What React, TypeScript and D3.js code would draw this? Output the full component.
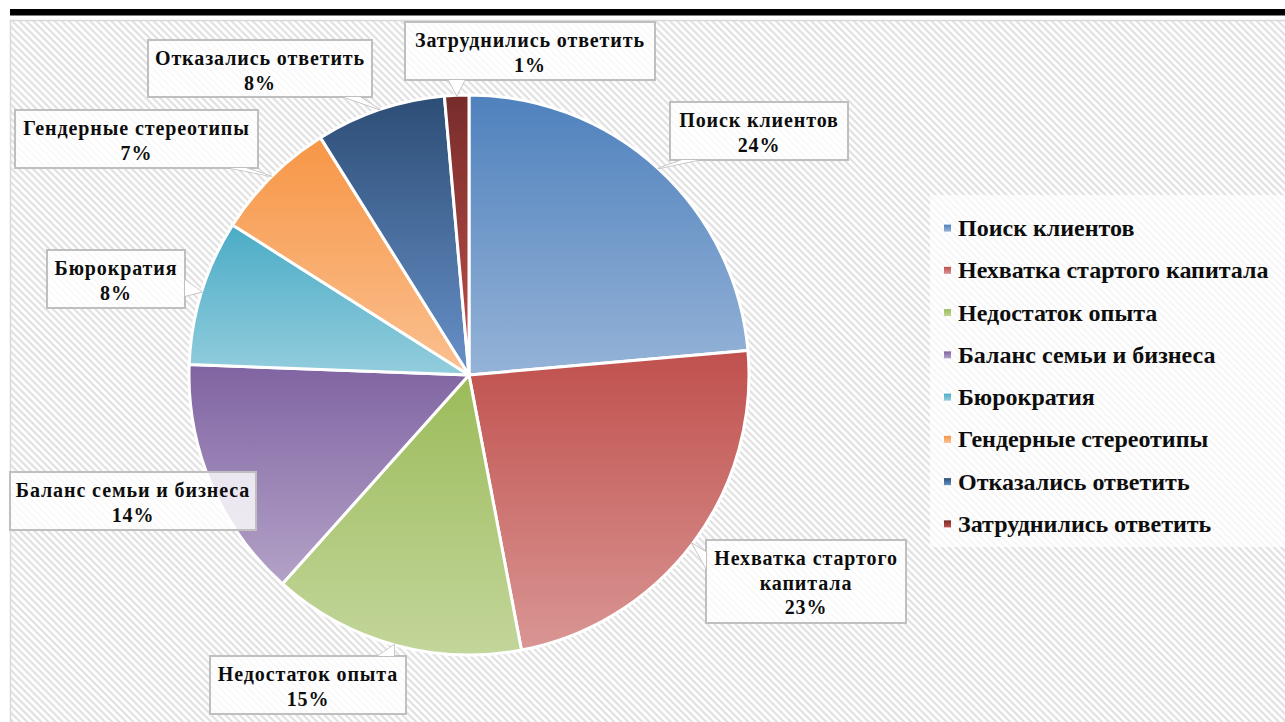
import * as d3 from "d3";

// survey: main problems of women in business
const categories = [
  "Поиск клиентов",
  "Нехватка стартого капитала",
  "Недостаток опыта",
  "Баланс семьи и бизнеса",
  "Бюрократия",
  "Гендерные стереотипы",
  "Отказались ответить",
  "Затруднились ответить",
];
const shares = [23.6, 23.4, 14.6, 14.0, 8.4, 7.1, 7.5, 1.4];
const percentLabels = ["24%", "23%", "15%", "14%", "8%", "7%", "8%", "1%"];
const labelLines = [
  ["Поиск клиентов"],
  ["Нехватка стартого", "капитала"],
  ["Недостаток опыта"],
  ["Баланс семьи и бизнеса"],
  ["Бюрократия"],
  ["Гендерные стереотипы"],
  ["Отказались ответить"],
  ["Затруднились ответить"],
];
const colorTop = ["#4f81bd", "#c0504d", "#9bbb59", "#8064a2", "#4bacc6", "#f79646", "#2c4d75", "#772c2a"];
const colorBottom = ["#95b3d7", "#d99694", "#c3d69b", "#b3a2c7", "#93cddd", "#fac090", "#6891c9", "#c0504d"];

// callout boxes (layout)
const boxes = [
  { x: 670, y: 102, w: 178, h: 58 },
  { x: 706, y: 540, w: 200, h: 83 },
  { x: 210, y: 656, w: 196, h: 58 },
  { x: 10, y: 472, w: 246, h: 58 },
  { x: 47, y: 250, w: 138, h: 58 },
  { x: 15, y: 110, w: 243, h: 58 },
  { x: 148, y: 40, w: 224, h: 57 },
  { x: 405, y: 22, w: 250, h: 58 },
];

const W = 1285;
const H = 722;
const cx = 469;
const cy = 375;
const R = 280;
const FONT = "'Liberation Serif', 'Times New Roman', serif";

// wedge of a callout: base on the box edge facing the anchor, tip on the anchor
function wedge(box, ax, ay) {
  const m = 20;
  const inside = ax > box.x && ax < box.x + box.w && ay > box.y && ay < box.y + box.h;
  if (inside) return null;
  let side;
  if (ay > box.y + box.h) side = "b";
  else if (ay < box.y) side = "t";
  else if (ax < box.x) side = "l";
  else side = "r";
  if (side === "b" || side === "t") {
    const ey = side === "b" ? box.y + box.h : box.y;
    const bx = Math.max(box.x + m, Math.min(box.x + box.w - m, ax));
    return [[bx - 8, ey], [ax, ay], [bx + 8, ey]];
  }
  const ex = side === "l" ? box.x : box.x + box.w;
  const by = Math.max(box.y + m, Math.min(box.y + box.h - m, ay));
  return [[ex, by - 8], [ax, ay], [ex, by + 8]];
}

export default function App() {
  const pie = d3.pie<number>().sort(null).value((d) => d);
  const arcs = pie(shares);
  const arc = d3.arc<d3.PieArcDatum<number>>().innerRadius(0).outerRadius(R);

  const legendY = d3.scaleBand<number>().domain(d3.range(categories.length)).range([207, 545]);

  return (
    <svg
      width={W}
      height={H}
      style={{ position: "absolute", left: 0, top: 0, background: "#fff" }}
    >
      <defs>
        <pattern id="hatch" width="5" height="5" patternUnits="userSpaceOnUse" patternTransform="rotate(45)">
          <rect width="5" height="5" fill="#fff" />
          <line x1="0" y1="1.2" x2="5" y2="1.2" stroke="#dedede" strokeWidth="2" />
        </pattern>
        {colorTop.map((c, i) => (
          <linearGradient key={i} id={`g${i}`} x1="0" y1="0" x2="0" y2="1">
            <stop offset="0" stopColor={c} />
            <stop offset="1" stopColor={colorBottom[i]} />
          </linearGradient>
        ))}
      </defs>

      <rect x={10} y={9} width={W - 10} height={6.5} fill="#000" />
      <rect x={10.5} y={20.5} width={W} height={H} fill="url(#hatch)" stroke="#d9d9d9" strokeWidth={1.5} />

      <rect x={930} y={195} width={355} height={352} fill="#fff" opacity={0.7} />

      <g transform={`translate(${cx},${cy})`}>
        {arcs.map((a, i) => (
          <path key={i} d={arc(a) || ""} fill={`url(#g${i})`} stroke="#fff" strokeWidth={3} strokeLinejoin="round" />
        ))}
      </g>

      {arcs.map((a, i) => {
        const mid = (a.startAngle + a.endAngle) / 2;
        const ax = cx + R * Math.sin(mid);
        const ay = cy - R * Math.cos(mid);
        const b = boxes[i];
        const w = wedge(b, ax, ay);
        const lines = [...labelLines[i], percentLabels[i]];
        return (
          <g key={i}>
            {w && (
              <polygon points={w.map((p) => p.join(",")).join(" ")} fill="#fff" fillOpacity={0.8} stroke="#bfbfbf" strokeWidth={1.5} />
            )}
            <rect x={b.x} y={b.y} width={b.w} height={b.h} fill="#fff" fillOpacity={0.8} stroke="#bfbfbf" strokeWidth={2} />
            {w && <polygon points={w.map((p) => p.join(",")).join(" ")} fill="#fff" stroke="none" />}
            {lines.map((t, j) => (
              <text
                key={j}
                x={b.x + b.w / 2}
                y={b.y + 25 + j * 24.5}
                textAnchor="middle"
                fontFamily={FONT}
                fontWeight="bold"
                fontSize={20}
                letterSpacing={0.9}
                fill="#0d0d0d"
              >
                {t}
              </text>
            ))}
          </g>
        );
      })}

      {categories.map((c, i) => {
        const y = (legendY(i) as number) + legendY.bandwidth() / 2;
        return (
          <g key={c}>
            <rect x={944} y={y - 3.5} width={7} height={7} fill={`url(#g${i})`} />
            <text x={958} y={y + 8} fontFamily={FONT} fontWeight="bold" fontSize={24} fill="#0d0d0d">
              {c}
            </text>
          </g>
        );
      })}
    </svg>
  );
}
